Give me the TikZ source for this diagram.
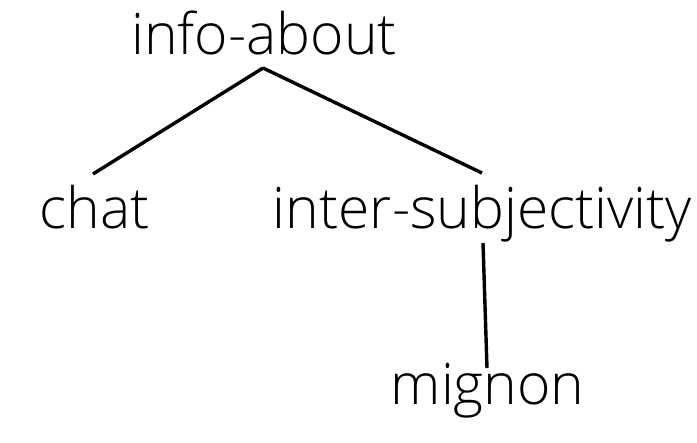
\documentclass[tikz,border=0pt]{standalone}
\usepackage{fontspec}
\setmainfont{Open Sans Light}
\begin{document}
\begin{tikzpicture}[x=1pt,y=1pt,
  word/.style={inner sep=0pt, anchor=base, font=\fontsize{57}{62}\selectfont},
  edge/.style={line width=3.4pt, black}]
\useasboundingbox (0,0) rectangle (697,443);
% tree labels
\node[word] (top)   at (264,388)   {info-about};
\node[word] (chat)  at (94.5,214)  {chat};
\node[word] (inter) at (482.5,214) {inter-subjectivity};
\node[word] (mig)   at (487.5,38)  {mignon};
% branches
\draw[edge] ([xshift=-1pt,yshift=-13pt]top.base) -- ([xshift=-1.5pt,yshift=55pt]chat.base);
\draw[edge] ([xshift=-1pt,yshift=-13pt]top.base) -- ([xshift=-0.5pt,yshift=56pt]inter.base);
\draw[edge] ([xshift=0.5pt,yshift=-14pt]inter.base) -- ([xshift=-0.5pt,yshift=37pt]mig.base);
\end{tikzpicture}
\end{document}
